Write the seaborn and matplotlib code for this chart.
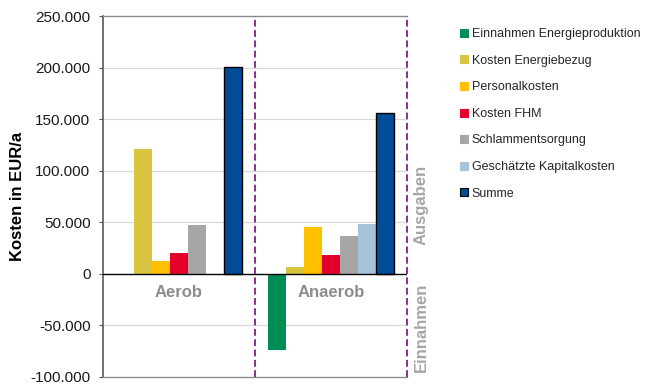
import matplotlib
matplotlib.use("Agg")
import matplotlib.pyplot as plt
from matplotlib.lines import Line2D
import numpy as np
import pandas as pd
import seaborn as sns

# Kostenarten und Werte je Verfahren (EUR/a)
varianten = ["Aerob", "Anaerob"]
kostenarten = [
    "Einnahmen Energieproduktion",
    "Kosten Energiebezug",
    "Personalkosten",
    "Kosten FHM",
    "Schlammentsorgung",
    "Geschätzte Kapitalkosten",
    "Summe",
]
aerob = [np.nan, 121000, 12300, 20000, 47200, np.nan, 200500]
anaerob = [-74300, 6700, 45600, 17800, 37100, 48700, 155900]
farben = ["#008C55", "#D8C440", "#FFC000", "#E4002B", "#A6A6A6", "#A6C3DA", "#004C97"]
y_ticks = [-100000, -50000, 0, 50000, 100000, 150000, 200000, 250000]

df = pd.DataFrame({
    "Variante": np.repeat(varianten, len(kostenarten)),
    "Kostenart": kostenarten * len(varianten),
    "Wert": aerob + anaerob,
})

sns.set_theme(style="white")
plt.rcParams["font.family"] = ["Liberation Sans", "DejaVu Sans"]

fig = plt.figure(figsize=(6.47, 3.88), dpi=100)
ax = fig.add_axes([103 / 647, 1 - 377 / 388, 304 / 647, 361 / 388])

sns.barplot(
    data=df, x="Variante", y="Wert", hue="Kostenart",
    hue_order=kostenarten, order=varianten, palette=farben,
    width=0.83, dodge=True, saturation=1, ax=ax, legend=False,
    linewidth=0,
)

# schwarze Umrandung für die Summenbalken
summe_container = ax.containers[-1]
for bar in summe_container:
    bar.set_edgecolor("black")
    bar.set_linewidth(1.0)

ax.set_xlim(-0.5, 1.5)
ax.set_ylim(-100000, 250000)
ax.set_yticks(y_ticks)
ax.set_yticklabels([f"{v:,}".replace(",", ".") for v in y_ticks], fontsize=11, color="#1a1a1a")
ax.set_xticks([])
ax.set_xlabel("")
ax.set_ylabel("Kosten in EUR/a", fontsize=12, fontweight="bold", labelpad=4, color="black")
ax.tick_params(axis="y", which="major", direction="out", length=3, width=0.8,
               color="#595959", left=True, pad=6)

for v in y_ticks:
    if v not in (0, -100000, 250000):
        ax.axhline(v, color="#D9D9D9", lw=0.9, zorder=0)
ax.axhline(0, color="black", lw=1.0, zorder=3)

for side in ["top", "bottom"]:
    ax.spines[side].set_color("#8C8C8C")
    ax.spines[side].set_linewidth(1.0)
ax.spines["left"].set_color("#595959")
ax.spines["left"].set_linewidth(1.2)
ax.spines["right"].set_visible(False)

lila = "#8E2C8E"
for xpos in (0.5, 1.5):
    ax.axvline(xpos, color=lila, lw=1.4, ls=(0, (3.5, 1.8)), zorder=4, clip_on=False)

for i, name in enumerate(varianten):
    ax.text(i, -18500, name, ha="center", va="center", fontsize=12,
            fontweight="bold", color="#8C8C8C")

fig.text(421 / 647, 1 - 205 / 388, "Ausgaben", rotation=90, ha="center", va="center",
         fontsize=12, fontweight="bold", color="#A6A6A6")
fig.text(421 / 647, 1 - 327 / 388, "Einnahmen", rotation=90, ha="center", va="center",
         fontsize=12, fontweight="bold", color="#A6A6A6")

handles = [
    Line2D([0], [0], marker="s", linestyle="none", markersize=5.5,
           markerfacecolor=c, markeredgecolor=("black" if k == "Summe" else c),
           markeredgewidth=0.8)
    for k, c in zip(kostenarten, farben)
]
fig.legend(handles, kostenarten, loc="upper left", bbox_to_anchor=(460 / 647, 1 - 28 / 388),
           frameon=False, fontsize=9, handlelength=0.7, handletextpad=0.25,
           labelspacing=1.17, borderaxespad=0, borderpad=0)

fig.savefig("out.png", dpi=100)
